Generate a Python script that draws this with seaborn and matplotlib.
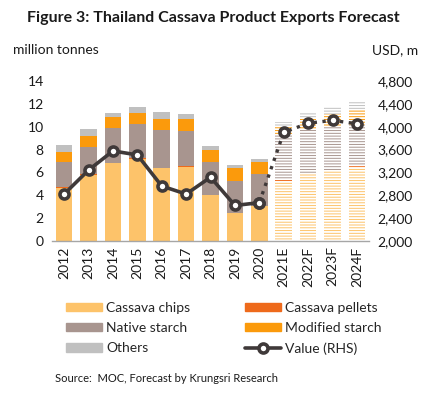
import numpy as np
import pandas as pd
import matplotlib
matplotlib.use("Agg")
import matplotlib.pyplot as plt
import seaborn as sns
from matplotlib.patches import Patch
from matplotlib.lines import Line2D

sns.set_theme(style="white")
plt.rcParams['font.family'] = ['Lato', 'DejaVu Sans']
plt.rcParams['hatch.linewidth'] = 1.3

# data (million tonnes, USD m)
years = ['2012', '2013', '2014', '2015', '2016', '2017', '2018', '2019', '2020',
         '2021E', '2022F', '2023F', '2024F']
chips = [4.6, 5.8, 6.8, 7.2, 6.4, 6.5, 4.0, 2.4, 3.05, 5.2, 5.9, 6.2, 6.5]
pellets = [0.1, 0.05, 0.02, 0.02, 0.02, 0.02, 0.02, 0.02, 0.02, 0.1, 0.05, 0.05, 0.05]
native = [2.25, 2.35, 3.05, 3.0, 3.27, 3.13, 2.9, 2.85, 2.8, 3.95, 3.75, 3.75, 3.6]
modified = [0.87, 1.0, 0.95, 0.96, 1.02, 1.0, 1.08, 1.08, 1.0, 0.75, 1.0, 1.15, 1.4]
others = [0.58, 0.57, 0.37, 0.5, 0.57, 0.5, 0.32, 0.29, 0.32, 0.38, 0.57, 0.58, 0.58]
value = [2820, 3240, 3575, 3505, 2960, 2820, 3115, 2620, 2670, 3900, 4060, 4110, 4050]
n_actual = 9  # 2012-2020 actual, rest forecast

c_chips = '#FDC36A'
c_pellets = '#EE6A1B'
c_native = '#A8958F'
c_modified = '#FB9A0C'
c_others = '#C0C0C0'
c_line = '#3F3939'

df = pd.DataFrame({'year': years, 'chips': chips, 'pellets': pellets,
                   'native': native, 'modified': modified, 'others': others,
                   'value': value})

fig = plt.figure(figsize=(4.35, 3.93), dpi=100)
ax = fig.add_axes([0.1195, 0.387, 0.729, 0.407])

# stacked bars by overlapping cumulative totals
layers = [('others', c_others), ('modified', c_modified), ('native', c_native),
          ('pellets', c_pellets), ('chips', c_chips)]
order_bottom_up = ['chips', 'pellets', 'native', 'modified', 'others']
for name, col in layers:
    upto = order_bottom_up[:order_bottom_up.index(name) + 1]
    cum = df[upto].sum(axis=1)
    sns.barplot(x=df['year'], y=cum, order=years, color=col, width=0.68,
                saturation=1, ax=ax, errorbar=None)
    for i, p in enumerate(ax.patches[-len(years):]):
        p.set_linewidth(0)
        if i >= n_actual:
            p.set_hatch('------')
            p.set_edgecolor('white')

ax.set_xlim(-0.5, len(years) - 0.5)
ax.set_ylim(0, 14)
ax.set_yticks(range(0, 15, 2))
ax.set_xlabel('')
ax.set_ylabel('')
for s in ['top', 'right', 'left']:
    ax.spines[s].set_visible(False)
ax.spines['bottom'].set_color('#A6A6A6')
ax.spines['bottom'].set_linewidth(1.0)
ax.tick_params(axis='x', rotation=90, labelsize=10, length=0, pad=4, colors='#1a1a1a')
ax.tick_params(axis='y', labelsize=10, length=0, pad=6, colors='#1a1a1a')

# value line on right axis
ax2 = ax.twinx()
val_act = [v if i < n_actual else np.nan for i, v in enumerate(value)]
val_fc = [v if i >= n_actual - 1 else np.nan for i, v in enumerate(value)]
sns.pointplot(x=years, y=val_fc, order=years, color=c_line, ax=ax2,
              linestyles=':', markers='o', errorbar=None,
              markersize=6.5, markerfacecolor='white', markeredgecolor=c_line,
              markeredgewidth=2.6, linewidth=2.4)
sns.pointplot(x=years, y=val_act, order=years, color=c_line, ax=ax2,
              linestyles='-', markers='o', errorbar=None,
              markersize=6.5, markerfacecolor='white', markeredgecolor=c_line,
              markeredgewidth=2.6, linewidth=2.6)
ax2.set_xlim(-0.5, len(years) - 0.5)
ax2.set_ylim(2000, 4800)
ax2.set_yticks(range(2000, 4801, 400))
ax2.set_yticklabels([f'{t:,}' for t in range(2000, 4801, 400)])
ax2.set_ylabel('')
for s in ['top', 'right', 'left', 'bottom']:
    ax2.spines[s].set_visible(False)
ax2.tick_params(axis='y', labelsize=10, length=0, pad=6, colors='#1a1a1a')

# texts
fig.text(0.062, 0.955, 'Figure 3: Thailand Cassava Product Exports Forecast',
         fontsize=11.5, fontweight='bold', va='center', ha='left', color='#1a1a1a')
fig.text(0.03, 0.872, 'million tonnes', fontsize=10, va='center', ha='left', color='#1a1a1a')
fig.text(0.962, 0.872, 'USD, m', fontsize=10, va='center', ha='right', color='#1a1a1a')
fig.text(0.127, 0.038, 'Source:  MOC, Forecast by Krungsri Research', fontsize=8,
         va='center', ha='left', color='#1a1a1a')

handles = [Patch(color=c_chips), Patch(color=c_native), Patch(color=c_others),
           Patch(color=c_pellets), Patch(color=c_modified),
           Line2D([], [], color=c_line, lw=2.6, marker='o', markersize=6.5,
                  markerfacecolor='white', markeredgecolor=c_line, markeredgewidth=2.6)]
labels = ['Cassava chips', 'Native starch', 'Others', 'Cassava pellets',
          'Modified starch', 'Value (RHS)']
fig.legend(handles, labels, ncol=2, loc='upper left', bbox_to_anchor=(0.152, 0.232),
           frameon=False, fontsize=10, handlelength=2.6, handleheight=0.55,
           handletextpad=0.3, columnspacing=3.9, labelspacing=0.6,
           borderpad=0, borderaxespad=0)

fig.savefig('out.png', dpi=100)
